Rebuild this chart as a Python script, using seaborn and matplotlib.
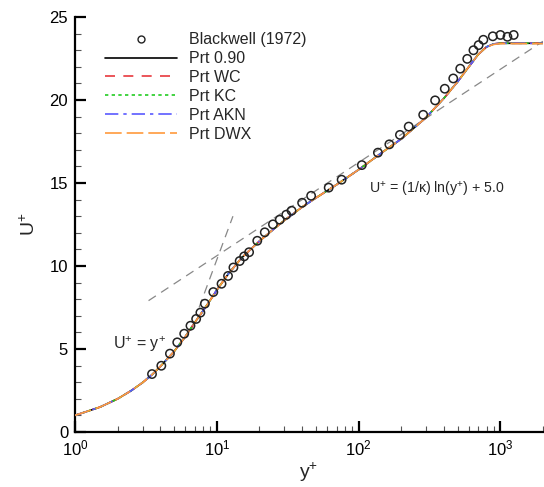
import numpy as np
import pandas as pd
import seaborn as sns
import matplotlib
matplotlib.use("Agg")
import matplotlib.pyplot as plt
from matplotlib.ticker import LogLocator, MultipleLocator
from matplotlib.lines import Line2D

# ---------------- data ----------------
exp_yplus = [3.49, 4.06, 4.67, 5.26, 5.89, 6.52, 7.15, 7.66, 8.24, 9.45,
             10.8, 12.0, 13.1, 14.5, 15.6, 16.9, 19.3, 21.8, 24.9, 27.8,
             30.9, 33.7, 40.0, 46.3, 61.6, 76.0, 105.5, 137, 165, 196,
             226, 286, 347, 406, 466, 522, 585, 647, 704, 760,
             886, 1003, 1124, 1244]
exp_uplus = [3.49, 3.99, 4.72, 5.40, 5.92, 6.40, 6.81, 7.19, 7.73, 8.43,
             8.93, 9.40, 9.91, 10.30, 10.58, 10.83, 11.52, 12.03, 12.51, 12.79,
             13.09, 13.33, 13.81, 14.23, 14.72, 15.20, 16.08, 16.83, 17.33, 17.90,
             18.40, 19.11, 19.98, 20.68, 21.30, 21.89, 22.48, 23.00, 23.31, 23.63,
             23.84, 23.92, 23.81, 23.92]

model_yplus = [1.0, 1.5, 2.0, 2.5, 3.0, 3.5, 4.0, 5.0, 6.0, 7.0, 8.0, 9.0,
               10, 12, 15, 20, 25, 30, 40, 50, 70, 100, 150, 200, 300, 400,
               500, 600, 700, 800, 900, 1000, 1500, 2000]
u_prt090 = [1.0, 1.5, 2.0, 2.5, 2.98, 3.46, 3.95, 4.85, 5.75, 6.6, 7.3, 7.95,
            8.55, 9.5, 10.5, 11.5, 12.2, 12.75, 13.55, 14.1, 14.9, 15.8, 16.9, 17.65,
            18.95, 20.1, 21.1, 22.0, 22.75, 23.2, 23.38, 23.42, 23.42, 23.42]
u_prt_wc = list(u_prt090)
u_prt_kc = list(u_prt090)
u_prt_akn = list(u_prt090)
u_prt_dwx = [1.0, 1.5, 2.0, 2.5, 2.98, 3.46, 3.95, 4.85, 5.75, 6.6, 7.3, 7.95,
             8.55, 9.5, 10.5, 11.5, 12.2, 12.75, 13.55, 14.1, 14.9, 15.8, 16.9, 17.65,
             18.95, 20.1, 21.1, 22.0, 22.75, 23.2, 23.35, 23.4, 23.4, 23.4]

visc_yplus = [7.5, 13.0]
log_yplus = [3.3, 2000.0]
kappa = 0.41
B = 5.0

series_names = ["Prt 0.90", "Prt WC", "Prt KC", "Prt AKN", "Prt DWX"]
series_vals = [u_prt090, u_prt_wc, u_prt_kc, u_prt_akn, u_prt_dwx]

# ---------------- style ----------------
sns.set_theme(style="ticks")
plt.rcParams['font.family'] = ['Liberation Sans', 'DejaVu Sans']
plt.rcParams['mathtext.fontset'] = 'custom'
plt.rcParams['mathtext.rm'] = 'Liberation Sans'
plt.rcParams['mathtext.it'] = 'Liberation Sans:italic'
plt.rcParams['mathtext.default'] = 'regular'

fig = plt.figure(figsize=(5.44, 4.87), dpi=100)
ax = fig.add_axes([0.138, 0.113, 0.860, 0.852])

# reference lines
vx = np.array(visc_yplus)
ax.plot(vx, vx, color='#888888', lw=0.9, dashes=(7, 5), zorder=1)
lx = np.geomspace(log_yplus[0], log_yplus[1], 50)
ax.plot(lx, np.log(lx) / kappa + B, color='#888888', lw=0.9, dashes=(7, 5), zorder=1)

styles = [
    dict(color='black', ls='-'),
    dict(color='#e8383d', dashes=(6, 5)),
    dict(color='#22cc22', dashes=(2, 2)),
    dict(color='#5a5aff', dashes=(8, 3, 2, 3)),
    dict(color='#ff9a3c', dashes=(10, 3)),
]
handles = []
for name, vals, st in zip(series_names, series_vals, styles):
    df = pd.DataFrame({"y": model_yplus, "u": vals})
    kw = dict(color=st['color'], lw=1.2)
    sns.lineplot(data=df, x="y", y="u", ax=ax, sort=False, estimator=None,
                 zorder=3, **kw)
    if 'dashes' in st:
        ax.lines[-1].set_dashes(st['dashes'])
    h = Line2D([], [], color=st['color'], lw=1.2)
    if 'dashes' in st:
        h.set_dashes(st['dashes'])
    handles.append(h)

dexp = pd.DataFrame({"y": exp_yplus, "u": exp_uplus})
sns.scatterplot(data=dexp, x="y", y="u", ax=ax, marker='o', s=36,
                facecolor='none', edgecolor='#222222', linewidth=1.1, zorder=4)

h_exp = Line2D([], [], marker='o', ls='none', markerfacecolor='none',
               markeredgecolor='#222222', markersize=5, markeredgewidth=1.0)

ax.set_xscale('log')
ax.set_xlim(1, 2000)
ax.set_ylim(0, 25)
ax.yaxis.set_major_locator(MultipleLocator(5))
ax.yaxis.set_minor_locator(MultipleLocator(1))
ax.xaxis.set_major_locator(LogLocator(base=10))
ax.xaxis.set_minor_locator(LogLocator(base=10, subs=np.arange(2, 10)))

for s in ['top', 'right']:
    ax.spines[s].set_visible(False)
for s in ['left', 'bottom']:
    ax.spines[s].set_linewidth(1.6)
    ax.spines[s].set_color('black')
ax.tick_params(which='major', direction='in', length=8, width=1.6, labelsize=12,
               colors='black', pad=5)
ax.tick_params(which='minor', direction='in', length=4.5, width=0.8, colors='#555555')

ax.set_xlabel(r'y$^{+}$', fontsize=14, labelpad=1)
ax.set_ylabel(r'U$^{+}$', fontsize=14, labelpad=8)

ax.text(1.85, 5.3, r'U$^{+}$ = y$^{+}$', fontsize=11.5, ha='left', va='center')
ax.text(118, 14.6, r'U$^{+}$ = (1/κ) ln(y$^{+}$) + 5.0', fontsize=10.2,
        ha='left', va='center')

leg = ax.legend([h_exp] + handles, ["Blackwell (1972)"] + series_names,
                loc='upper left', bbox_to_anchor=(0.04, 0.99), frameon=False,
                fontsize=11.5, handlelength=4.5, handletextpad=0.75,
                labelspacing=0.24, borderpad=0.2)

fig.savefig("out.png", dpi=100)
